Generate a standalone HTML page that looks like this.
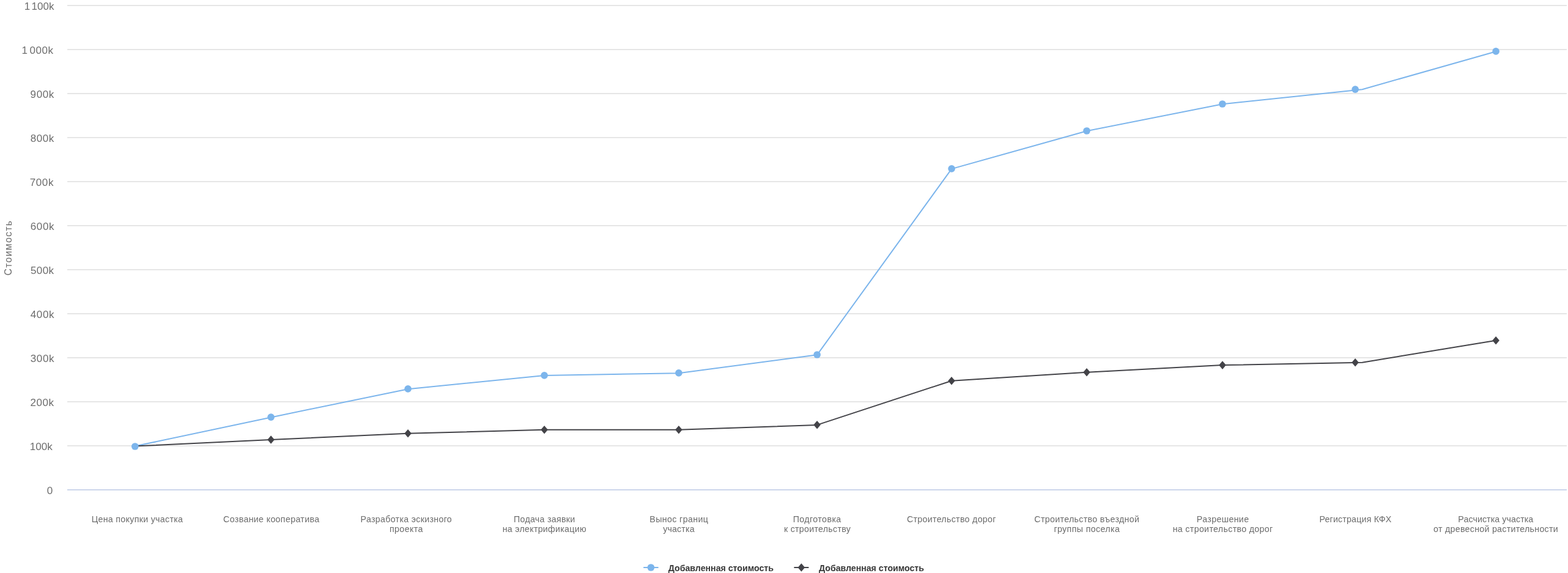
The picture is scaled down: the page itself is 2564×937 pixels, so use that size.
<!DOCTYPE html>
<html lang="ru"><head><meta charset="utf-8"><title>Добавленная стоимость</title>
<style>html,body{margin:0;padding:0;width:100%;height:100%;background:#fff;overflow:hidden}svg{position:absolute;left:0;top:0;width:100vw;height:100vh;display:block}text{font-family:"Liberation Sans",sans-serif;white-space:pre}.yl{font-size:17px;fill:#6c6c6c;word-spacing:-2.2px}.xl{font-size:14.2px;fill:#6c6c6c}.lg{font-size:14.2px;fill:#383838;font-weight:bold}.yt{font-size:15.8px;fill:#6c6c6c;letter-spacing:1.278px}</style></head><body>
<svg viewBox="0 0 2564 937" preserveAspectRatio="none" role="img" aria-label="Добавленная стоимость">
<rect x="0" y="0" width="2564" height="937" fill="#ffffff"/>
<g stroke="#e6e6e6" stroke-width="2" fill="none">
<path d="M110 9 L2562 9"/>
<path d="M110 81 L2562 81"/>
<path d="M110 153 L2562 153"/>
<path d="M110 225 L2562 225"/>
<path d="M110 297 L2562 297"/>
<path d="M110 369 L2562 369"/>
<path d="M110 441 L2562 441"/>
<path d="M110 513 L2562 513"/>
<path d="M110 585 L2562 585"/>
<path d="M110 657 L2562 657"/>
<path d="M110 729 L2562 729"/>
</g>
<path d="M110 801 L2562 801" stroke="#ccd6eb" stroke-width="2" fill="none"/>
<path d="M220.8 729.6 L443.1 682.4 L667.1 636.2 L890.1 614.1 L1109.9 610.2 L1336.1 580.3 L1556.1 276.1 L1777.0 214.3 L1998.9 170.3 L2227.6 146.2 L2446.1 84.2" stroke="#7cb5ec" stroke-width="2" fill="none" stroke-linejoin="round" stroke-linecap="round"/>
<path d="M220.8 729.6 L443.1 719.0 L667.1 708.7 L890.1 702.8 L1109.9 702.8 L1336.1 694.9 L1556.0 622.7 L1777.0 608.7 L1999.0 597.1 L2227.6 592.7 L2446.1 556.8" stroke="#434348" stroke-width="2" fill="none" stroke-linejoin="round" stroke-linecap="round"/>
<path d="M443.1 712.2 L448.9 719.0 L443.1 725.8 L437.3 719.0 Z" fill="#434348"/>
<path d="M667.1 701.9 L672.9 708.7 L667.1 715.5 L661.3 708.7 Z" fill="#434348"/>
<path d="M890.1 696.0 L895.9 702.8 L890.1 709.6 L884.3 702.8 Z" fill="#434348"/>
<path d="M1109.9 696.0 L1115.7 702.8 L1109.9 709.6 L1104.1 702.8 Z" fill="#434348"/>
<path d="M1336.1 688.0 L1341.9 694.8 L1336.1 701.6 L1330.3 694.8 Z" fill="#434348"/>
<path d="M1556.0 615.9 L1561.8 622.7 L1556.0 629.5 L1550.2 622.7 Z" fill="#434348"/>
<path d="M1777.0 601.9 L1782.8 608.7 L1777.0 615.5 L1771.2 608.7 Z" fill="#434348"/>
<path d="M1999.0 590.3 L2004.8 597.1 L1999.0 603.9 L1993.2 597.1 Z" fill="#434348"/>
<path d="M2216.1 586.0 L2221.9 592.8 L2216.1 599.6 L2210.3 592.8 Z" fill="#434348"/>
<path d="M2446.1 550.0 L2451.9 556.8 L2446.1 563.6 L2440.3 556.8 Z" fill="#434348"/>
<circle cx="220.8" cy="730.0" r="5.85" fill="#7cb5ec"/>
<circle cx="443.1" cy="682.1" r="5.85" fill="#7cb5ec"/>
<circle cx="667.1" cy="635.9" r="5.85" fill="#7cb5ec"/>
<circle cx="890.1" cy="613.8" r="5.85" fill="#7cb5ec"/>
<circle cx="1109.9" cy="609.9" r="5.85" fill="#7cb5ec"/>
<circle cx="1336.1" cy="580.0" r="5.85" fill="#7cb5ec"/>
<circle cx="1556.1" cy="275.8" r="5.85" fill="#7cb5ec"/>
<circle cx="1777.0" cy="214.0" r="5.85" fill="#7cb5ec"/>
<circle cx="1998.9" cy="170.0" r="5.85" fill="#7cb5ec"/>
<circle cx="2216.1" cy="146.1" r="5.85" fill="#7cb5ec"/>
<circle cx="2446.1" cy="83.9" r="5.85" fill="#7cb5ec"/>
<text class="yl" x="39.64" y="16" style="letter-spacing:0.004px">1 100k</text>
<text class="yl" x="35.43" y="88" style="letter-spacing:0.532px">1 000k</text>
<text class="yl" x="49.58" y="160" style="letter-spacing:0.612px">900k</text>
<text class="yl" x="49.67" y="232" style="letter-spacing:0.616px">800k</text>
<text class="yl" x="48.75" y="304" style="letter-spacing:0.588px">700k</text>
<text class="yl" x="49.66" y="376" style="letter-spacing:0.695px">600k</text>
<text class="yl" x="50.11" y="448" style="letter-spacing:0.311px">500k</text>
<text class="yl" x="49.81" y="520" style="letter-spacing:0.587px">400k</text>
<text class="yl" x="49.67" y="592" style="letter-spacing:0.688px">300k</text>
<text class="yl" x="49.55" y="664" style="letter-spacing:0.496px">200k</text>
<text class="yl" x="48.67" y="736" style="letter-spacing:0.114px">100k</text>
<text class="yl" x="76.75" y="808" style="letter-spacing:0.300px">0</text>
<text class="yt" transform="translate(19.4 450.41) rotate(-90)">Стоимость</text>
<text class="xl" x="149.67" y="854" style="letter-spacing:0.322px">Цена покупки участка</text>
<text class="xl" x="365.11" y="854" style="letter-spacing:0.356px">Созвание кооператива</text>
<text class="xl" x="589.58" y="854" style="letter-spacing:0.325px">Разработка эскизного</text>
<text class="xl" x="636.91" y="870" style="letter-spacing:0.429px">проекта</text>
<text class="xl" x="840.00" y="854" style="letter-spacing:0.303px">Подача заявки</text>
<text class="xl" x="821.69" y="870" style="letter-spacing:0.296px">на электрификацию</text>
<text class="xl" x="1062.31" y="854" style="letter-spacing:0.395px">Вынос границ</text>
<text class="xl" x="1084.16" y="870" style="letter-spacing:0.165px">участка</text>
<text class="xl" x="1296.73" y="854" style="letter-spacing:0.425px">Подготовка</text>
<text class="xl" x="1281.91" y="870" style="letter-spacing:0.293px">к строительству</text>
<text class="xl" x="1482.98" y="854" style="letter-spacing:0.314px">Строительство дорог</text>
<text class="xl" x="1691.36" y="854" style="letter-spacing:0.344px">Строительство въездной</text>
<text class="xl" x="1723.43" y="870" style="letter-spacing:0.392px">группы поселка</text>
<text class="xl" x="1956.84" y="854" style="letter-spacing:0.363px">Разрешение</text>
<text class="xl" x="1917.67" y="870" style="letter-spacing:0.346px">на строительство дорог</text>
<text class="xl" x="2157.42" y="854" style="letter-spacing:0.200px">Регистрация КФХ</text>
<text class="xl" x="2384.37" y="854" style="letter-spacing:0.088px">Расчистка участка</text>
<text class="xl" x="2344.11" y="870" style="letter-spacing:0.292px">от древесной растительности</text>
<path d="M1052.2 928 L1076.6 928" stroke="#7cb5ec" stroke-width="2"/>
<circle cx="1064.4" cy="928" r="5.85" fill="#7cb5ec"/>
<path d="M1298.4 928 L1322.4 928" stroke="#434348" stroke-width="2"/>
<path d="M1310.4 921.2 L1316.2 928.0 L1310.4 934.8 L1304.6 928.0 Z" fill="#434348"/>
<text class="lg" x="1092.83" y="934" style="letter-spacing:-0.021px">Добавленная стоимость</text>
<text class="lg" x="1339.03" y="934" style="letter-spacing:-0.028px">Добавленная стоимость</text>
</svg></body></html>
